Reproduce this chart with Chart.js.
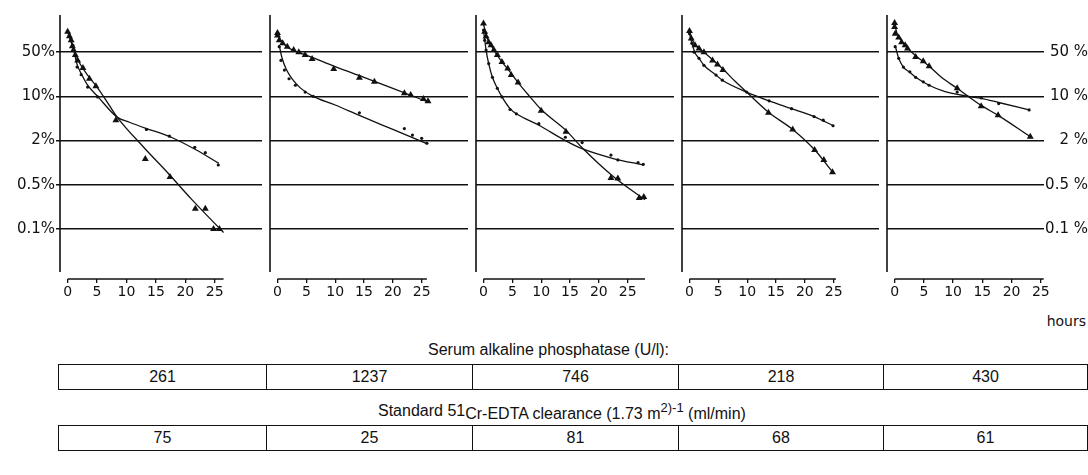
<!DOCTYPE html>
<html><head><meta charset="utf-8">
<script src="https://cdn.jsdelivr.net/npm/chart.js@4"></script>
<style>
html,body{margin:0;padding:0;background:#fff;}
#wrap{position:relative;width:1088px;height:475px;overflow:hidden;background:#fff;}
canvas{position:absolute;top:0;}
.t{position:absolute;font-family:"Liberation Sans Narrow","Liberation Sans",Arial,sans-serif;color:#111;font-size:16px;white-space:nowrap;line-height:18px;}
.hours{position:absolute;font-family:"DejaVu Sans",sans-serif;font-size:14px;color:#111;right:2px;top:313px;}
table{position:absolute;left:58px;width:1029px;border-collapse:collapse;table-layout:fixed;font-family:"Liberation Sans Narrow","Liberation Sans",Arial,sans-serif;font-size:16px;color:#111;}
td{border:1.5px solid #111;text-align:center;padding:0;height:24px;line-height:24px;}
.lo{position:relative;top:3px;}
.hi{position:relative;top:-4px;font-size:13px;}
</style>
</head><body>
<div id="wrap">
<canvas id="c0"></canvas><canvas id="c1"></canvas><canvas id="c2"></canvas><canvas id="c3"></canvas><canvas id="c4"></canvas>
<div class="hours">hours</div>
<div class="t" style="left:428px;top:341px;">Serum alkaline phosphatase (U/l):</div>
<table id="tab1" style="top:364px;"></table>
<div class="t" style="left:378px;top:402px;">Standard 51<span class="lo">Cr-EDTA clearance (1.73 m</span><span class="hi">2)-1</span><span class="lo"> (ml/min)</span></div>
<table id="tab2" style="top:425px;"></table>
</div>
<script>
// ---- data ----
const gridValues = [0.1, 0.5, 2, 10, 50];            // % levels of the horizontal lines
const leftLabels = ['0.1%', '0.5%', '2%', '10%', '50%'];
const rightLabels = ['0.1 %', '0.5 %', '2 %', '10 %', '50 %'];
const hourTicks = [0, 5, 10, 15, 20, 25];
const phosphatase = [261, 1237, 746, 218, 430];
const clearance = [75, 25, 81, 68, 61];

// [hours, % remaining]
const p1Triangles = [[0,105],[0.3,89],[0.6,77],[0.8,62],[1.0,54],[1.3,45],[1.7,37],[2.6,28],[3.7,19],[4.8,14.5],[8.2,4.2],[13.2,1.12],[17.4,0.64],[21.7,0.21],[23.4,0.21],[24.8,0.1],[25.8,0.1]];
const p1Dots = [[0.3,92],[0.9,64],[1.3,45],[1.6,29],[2.3,22],[3.4,14],[5.1,9.8],[13.4,3.0],[17.3,2.35],[21.6,1.62],[23.4,1.37],[25.6,0.93]];
const p1TriCurve = [[0,105],[1,56],[2,34],[3.5,21],[5,14],[7,7.4],[8.4,4.7],[13,1.6],[17,0.73],[21,0.3],[26.5,0.088]];
const p1DotCurve = [[0.2,95],[0.9,62],[1.6,32],[2.3,23],[3.4,15],[5.1,10],[8.4,4.7],[10.5,3.9],[13.4,3.1],[17.4,2.3],[21.8,1.5],[25.7,0.98]];

const p2Triangles = [[0,100],[0,92],[0.3,77],[0.9,69],[1.7,61],[2.8,54],[3.7,50],[4.8,45],[6.0,39],[9.75,27],[14.2,19.7],[16.8,17],[22,11.2],[23.1,10.5],[25.3,9.1],[26.1,8.4]];
const p2Dots = [[0.3,61],[0.6,37],[1.2,26],[2,19],[3.1,15],[4.8,11.7],[6.2,10],[14.2,5.5],[22,3.1],[23.4,2.44],[25,2.17],[25.9,1.84]];
const p2TriCurve = [[0,100],[0.5,78],[1.5,62],[3,52],[5,45],[10,29.5],[15,20],[20,13.4],[26.3,8.0]];
const p2DotCurve = [[0.3,64],[0.8,40],[1.5,27],[2.5,19],[4,13.5],[6,10.2],[10,7.3],[14.2,5.0],[20,3.0],[26,1.8]];

const p3Triangles = [[0,142],[0.2,105],[0.45,88],[0.9,72],[1.3,64],[1.8,54],[2.4,45],[3.2,35],[4.2,27.6],[4.8,21.7],[6.0,16.5],[10,5.9],[14.3,2.76],[22.1,0.62],[23.3,0.61],[27,0.31],[27.8,0.32]];
const p3Dots = [[0,112],[0.2,77],[0.45,54],[0.9,33],[1.55,20],[2.4,13.4],[3.2,9.8],[4.6,6.2],[5.7,5.3],[9.6,3.7],[14.2,2.26],[17.1,1.88],[22.1,1.27],[23.3,1.09],[26.8,1.0],[27.7,0.95]];
const p3TriCurve = [[0,140],[0.5,90],[1.5,60],[3,37],[4.5,25],[6,16.5],[8,10],[10,6.2],[14.3,2.9],[17.1,1.6],[22.5,0.65],[28,0.29]];
const p3DotCurve = [[0,110],[0.45,54],[0.9,33],[1.55,20],[2.4,13.4],[3.2,9.8],[4.6,6.4],[5.7,5.3],[9.6,3.5],[14.2,2.0],[17.1,1.55],[22.5,1.14],[27.8,0.93]];

const p4Triangles = [[0,108],[0.3,82],[0.95,64],[1.65,57],[2.5,50],[4.0,37],[4.85,32],[5.8,26],[13.7,5.5],[17.9,3.0],[21.7,1.49],[23.3,1.09],[24.8,0.74]];
const p4Dots = [[0,98],[0.4,69],[0.8,50],[1.65,40],[2.5,31],[4.6,21.7],[5.7,18],[9.9,11.7],[13.8,8.5],[17.7,6.4],[21.6,4.8],[23.2,4.2],[24.9,3.43]];
const p4TriCurve = [[0,108],[0.5,78],[1.5,58],[2.5,50],[4,38],[5.8,27],[8,17],[9.9,11.7],[13.7,5.6],[17.9,3.0],[21.7,1.5],[24.8,0.75]];
const p4DotCurve = [[0,98],[0.5,65],[1,48],[1.65,40],[2.5,31],[4.6,21.7],[5.7,18],[9.9,11.7],[13.8,8.5],[17.7,6.4],[21.6,4.8],[24.9,3.45]];

const p5Triangles = [[0,145],[0,125],[0.1,98],[0.7,85],[1.2,72],[1.8,64],[2.2,57],[3.6,42],[4.9,36],[5.9,30],[10.7,13.4],[14.8,7.0],[17.7,5.05],[23.2,2.3]];
const p5Dots = [[0.1,61],[0.7,40],[1.5,29],[2.6,24.4],[3.6,20],[4.9,17],[5.9,15],[10.7,11.7],[14.8,9.5],[17.8,7.7],[23,6.1]];
const p5TriCurve = [[0,140],[0.4,100],[1.2,75],[2.2,58],[3.6,44],[5.9,30],[8,20],[10.7,13.4],[12.6,10],[14.8,7.2],[17.7,5.0],[23.2,2.3]];
const p5DotCurve = [[0.1,63],[0.7,40],[1.5,29],[2.6,24],[3.6,20],[5.9,15],[8.5,12],[12.6,10],[14.8,9.3],[17.8,8.0],[23,6.1]];

// ---- layout (positions / styles) ----
const panels = [
  {id:'c0', left:0,   width:266, yAxisW:60, rightW:0,  axisEnd:26.5, tri:p1Triangles, dot:p1Dots, triC:p1TriCurve, dotC:p1DotCurve},
  {id:'c1', left:266, width:206, yAxisW:0,  rightW:0,  axisEnd:25.9, tri:p2Triangles, dot:p2Dots, triC:p2TriCurve, dotC:p2DotCurve},
  {id:'c2', left:472, width:206, yAxisW:0,  rightW:0,  axisEnd:28.0, tri:p3Triangles, dot:p3Dots, triC:p3TriCurve, dotC:p3DotCurve},
  {id:'c3', left:678, width:205, yAxisW:0,  rightW:0,  axisEnd:25.4, tri:p4Triangles, dot:p4Dots, triC:p4TriCurve, dotC:p4DotCurve},
  {id:'c4', left:883, width:205, yAxisW:0,  rightW:47, axisEnd:25.5, tri:p5Triangles, dot:p5Dots, triC:p5TriCurve, dotC:p5DotCurve}
];
const H = 310, TOP = 15, XAXIS_H = 31, X_MIN = -1.3, PX_PER_HOUR = 6;
const Y_MIN = -1.13, Y_MAX = 4.84;
const INK = '#111';

// map a percentage onto the evenly spaced grid levels (log-interpolated between levels)
function toGrid(v) {
  const g = gridValues, n = g.length;
  if (v <= g[0]) return Math.log(v / g[0]) / Math.log(g[1] / g[0]);
  if (v >= g[n - 1]) return (n - 1) + Math.log(v / g[n - 1]) / Math.log(g[n - 1] / g[n - 2]);
  for (let i = 0; i < n - 1; i++) {
    if (v >= g[i] && v < g[i + 1]) return i + Math.log(v / g[i]) / Math.log(g[i + 1] / g[i]);
  }
}
const pts = arr => arr.map(([x, v]) => ({x: x, y: toGrid(v)}));

// tables
function fillTable(id, vals) {
  const t = document.getElementById(id);
  const widths = [208, 206, 206, 205, 204];
  let h = '<colgroup>' + widths.map(w => '<col style="width:' + w + 'px">').join('') + '</colgroup><tr>';
  h += vals.map(v => '<td>' + v + '</td>').join('') + '</tr>';
  t.innerHTML = h;
}
fillTable('tab1', phosphatase);
fillTable('tab2', clearance);

const axisLines = {
  id: 'axisLines',
  afterDraw(chart, args, opts) {
    const {ctx, chartArea: a, scales: {x}} = chart;
    ctx.save();
    ctx.strokeStyle = INK;
    ctx.lineWidth = 1.6;
    ctx.beginPath();
    ctx.moveTo(a.left, a.top);
    ctx.lineTo(a.left, a.bottom - 7);
    ctx.stroke();
    ctx.lineWidth = 1.4;
    ctx.beginPath();
    ctx.moveTo(x.getPixelForValue(0), a.bottom);
    ctx.lineTo(x.getPixelForValue(opts.end), a.bottom);
    ctx.stroke();
    ctx.restore();
  }
};

Chart.defaults.font.family = '"DejaVu Sans", sans-serif';
Chart.defaults.color = INK;

panels.forEach((p) => {
  const cv = document.getElementById(p.id);
  cv.width = p.width; cv.height = H;
  cv.style.left = p.left + 'px';
  cv.style.width = p.width + 'px'; cv.style.height = H + 'px';
  const plotW = p.width - p.yAxisW - p.rightW;
  const xMax = X_MIN + plotW / PX_PER_HOUR;
  const yTicks = s => { s.ticks = gridValues.map((_, i) => ({value: i})); };
  const scales = {
    x: {
      type: 'linear', min: X_MIN, max: xMax,
      afterBuildTicks: s => { s.ticks = hourTicks.map(v => ({value: v})); },
      afterFit: s => { s.height = XAXIS_H; },
      border: {display: false},
      grid: {drawOnChartArea: false, drawTicks: true, tickLength: 4, color: INK, lineWidth: 1.3},
      ticks: {autoSkip: false, maxRotation: 0, padding: 1, font: {size: 14}, color: INK}
    },
    y: {
      type: 'linear', min: Y_MIN, max: Y_MAX, position: 'left',
      afterBuildTicks: yTicks,
      afterFit: s => { s.width = p.yAxisW; },
      border: {display: false},
      grid: {color: INK, lineWidth: 1.5, drawTicks: p.yAxisW > 0, tickLength: 4},
      ticks: {display: p.yAxisW > 0, padding: 1, font: {size: 15}, color: INK,
              callback: (v, i) => leftLabels[i]}
    }
  };
  if (p.rightW > 0) {
    scales.y2 = {
      type: 'linear', min: Y_MIN, max: Y_MAX, position: 'right',
      afterBuildTicks: yTicks,
      afterFit: s => { s.width = p.rightW; },
      border: {display: false},
      grid: {drawOnChartArea: false, drawTicks: true, tickLength: 3, color: INK, lineWidth: 1.5},
      ticks: {crossAlign: 'far', padding: 1, font: {size: 15}, color: INK,
              callback: (v, i) => rightLabels[i]}
    };
  }
  const curve = d => ({type: 'scatter', data: pts(d), showLine: true, pointRadius: 0,
                       borderColor: INK, borderWidth: 1.3, cubicInterpolationMode: 'monotone', fill: false});
  new Chart(cv, {
    type: 'scatter',
    data: {
      datasets: [
        curve(p.triC),
        curve(p.dotC),
        {data: pts(p.tri), pointStyle: 'triangle', pointRadius: 4, backgroundColor: INK, borderColor: INK, borderWidth: 0, showLine: false},
        {data: pts(p.dot), pointStyle: 'circle', pointRadius: 1.6, backgroundColor: INK, borderColor: INK, borderWidth: 0, showLine: false}
      ]
    },
    options: {
      responsive: false, animation: false, devicePixelRatio: 1,
      layout: {padding: {top: TOP, left: 0, right: 0, bottom: 0}},
      plugins: {legend: {display: false}, tooltip: {enabled: false}, axisLines: {end: p.axisEnd}},
      scales: scales
    },
    plugins: [axisLines]
  });
});
</script>
</body></html>
